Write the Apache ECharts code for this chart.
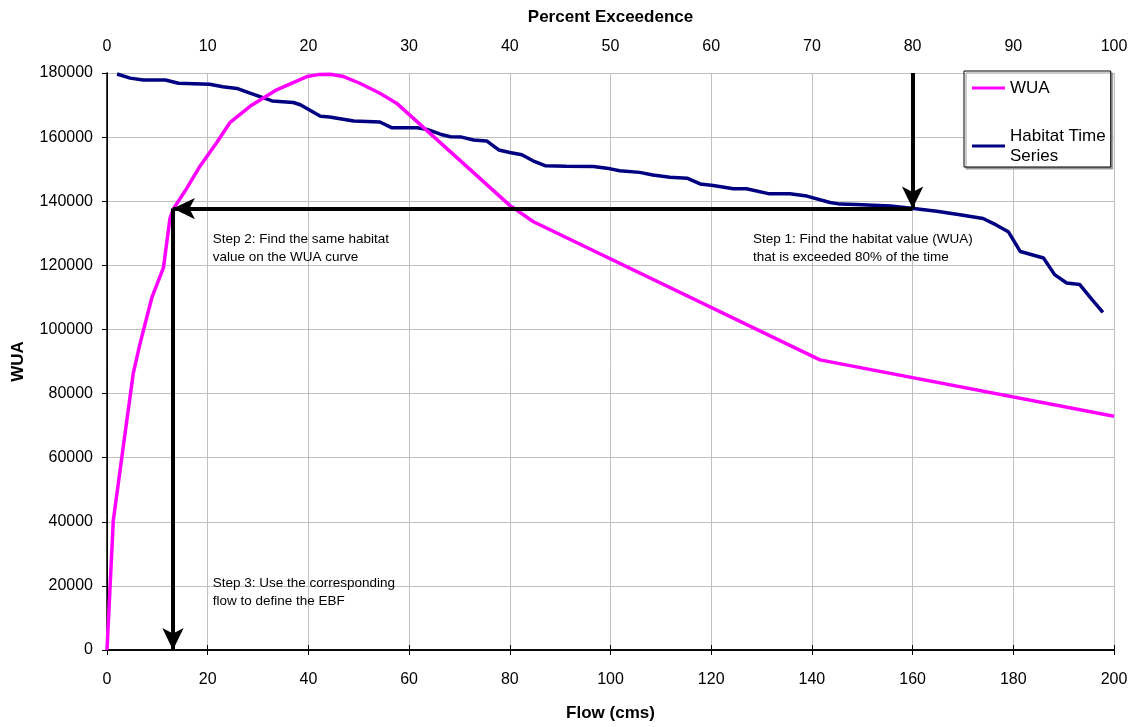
<!DOCTYPE html>
<html>
<head>
<meta charset="utf-8">
<title>WUA / Habitat Time Series</title>
<script src="https://cdn.jsdelivr.net/npm/echarts@6/dist/echarts.min.js"></script>
<style>
  html, body { margin: 0; padding: 0; background: #fff; }
  #chart { width: 1132px; height: 727px; }
</style>
</head>
<body>
<div id="chart"></div>
<script>
// WUA curve (flow in cms)
var wuaFlow = [0, 1.25, 2.9, 5.2, 6.55, 8.9, 11.2, 12.5, 13.2, 15.8, 18.5, 21.8, 24.4, 28.4, 33.7, 39.7, 42, 44.3, 47, 50.2, 54.2, 57.5, 80, 84.7, 141.6, 200];
var wuaValue = [0, 40400, 59600, 86200, 95500, 109900, 119200, 134600, 137700, 143900, 151000, 158300, 164500, 169600, 174750, 178900, 179500, 179600, 178900, 176800, 173700, 170600, 138700, 133600, 90500, 72900];

// habitat time series (percent exceedence)
var habPct = [1.0, 2.3, 3.6, 5.8, 7.1, 10.2, 11.5, 12.9, 14.2, 16.4, 18.5, 19.2, 21.2, 22.1, 24.5, 27.1, 28.3, 30.8, 31.8, 33.1, 34.1, 35.2, 36.4, 37.7, 38.9, 40.0, 41.2, 42.3, 43.5, 45.6, 48.3, 50.0, 50.9, 52.9, 54.2, 55.9, 57.6, 58.9, 60.2, 62.2, 63.5, 65.8, 67.8, 69.5, 71.8, 72.8, 74.4, 77.8, 80.1, 82.4, 84.7, 87.0, 88.3, 89.5, 90.7, 93.0, 94.1, 95.3, 96.6, 97.8, 98.9];
var habValue = [179700, 178400, 177800, 177800, 176800, 176500, 175700, 175200, 173700, 171300, 170800, 170100, 166500, 166300, 165000, 164700, 162900, 162900, 162400, 160900, 160100, 160000, 159100, 158800, 156000, 155200, 154500, 152600, 151100, 150900, 150800, 150100, 149500, 149000, 148200, 147500, 147200, 145400, 144900, 143900, 143900, 142300, 142300, 141600, 139600, 139100, 139000, 138500, 137700, 136900, 135800, 134600, 132600, 130500, 124300, 122300, 117100, 114500, 114000, 109400, 105300];

// the lookup steps
var exceedFlow = 160;      // 80% on the top axis sits over flow 160
var habitatAt80 = 137700;
var ebfFlow = 13.1;

var steps = [
  { at: [128.3, 125300], text: 'Step 1: Find the habitat value (WUA)\nthat is exceeded 80% of the time' },
  { at: [21.0, 125300], text: 'Step 2: Find the same habitat\nvalue on the WUA curve' },
  { at: [21.0, 18000], text: 'Step 3: Use the corresponding\nflow to define the EBF' }
];

function pairs(xs, ys) {
  return xs.map(function (x, i) { return [x, ys[i]]; });
}

function arrow(from, to) {
  return [
    { coord: from, symbol: 'none' },
    { coord: to, symbol: 'arrow', symbolSize: [16, 22] }
  ];
}

var font = 'Arial, "Liberation Sans", sans-serif';
var chart = echarts.init(document.getElementById('chart'));

chart.setOption({
  animation: false,
  backgroundColor: '#fff',
  textStyle: { fontFamily: font, color: '#000' },
  grid: { left: 107, right: 18, top: 73, bottom: 71 },
  legend: {
    orient: 'vertical',
    left: 964,
    top: 71,
    padding: [7, 5, 1, 8],
    itemGap: 28,
    itemWidth: 33,
    itemHeight: 3,
    icon: 'rect',
    backgroundColor: '#fff',
    borderColor: '#000',
    borderWidth: 1,
    shadowColor: '#999',
    shadowOffsetX: 2,
    shadowOffsetY: 2,
    textStyle: { fontSize: 17, lineHeight: 20, color: '#000', fontFamily: font },
    formatter: function (name) {
      return name === 'Habitat Time Series' ? 'Habitat Time\nSeries' : name;
    },
    data: ['WUA', 'Habitat Time Series']
  },
  xAxis: [
    {
      type: 'value', position: 'bottom', min: 0, max: 200, interval: 20,
      name: 'Flow (cms)', nameLocation: 'middle', nameGap: 55,
      nameTextStyle: { fontWeight: 'bold', fontSize: 17 },
      axisLine: { lineStyle: { color: '#000', width: 1.5 } },
      axisTick: { lineStyle: { color: '#000' }, length: 5 },
      axisLabel: { fontSize: 16, color: '#000', margin: 22 },
      splitLine: { show: true, lineStyle: { color: '#c0c0c0', width: 1 } }
    },
    {
      type: 'value', position: 'top', min: 0, max: 100, interval: 10,
      name: 'Percent Exceedence', nameLocation: 'middle', nameGap: 47,
      nameTextStyle: { fontWeight: 'bold', fontSize: 17 },
      axisLine: { lineStyle: { color: '#000', width: 1.5 } },
      axisTick: { lineStyle: { color: '#000' }, length: 5 },
      axisLabel: { fontSize: 16, color: '#000', margin: 18 },
      splitLine: { show: false }
    }
  ],
  yAxis: [
    {
      type: 'value', min: 0, max: 180000, interval: 20000,
      name: 'WUA', nameLocation: 'middle', nameGap: 80,
      nameTextStyle: { fontWeight: 'bold', fontSize: 17 },
      axisLine: { show: true, lineStyle: { color: '#000', width: 1.5 } },
      axisTick: { show: true, lineStyle: { color: '#000' }, length: 5 },
      axisLabel: { fontSize: 16, color: '#000', margin: 14, formatter: function (v) { return String(v); } },
      splitLine: { show: true, lineStyle: { color: '#c0c0c0', width: 1 } }
    },
    {
      type: 'value', min: 0, max: 180000, position: 'right',
      axisLine: { show: true, lineStyle: { color: '#000', width: 1 } },
      axisTick: { show: false },
      axisLabel: { show: false },
      splitLine: { show: false }
    }
  ],
  series: [
    {
      name: 'WUA',
      type: 'line',
      xAxisIndex: 0,
      yAxisIndex: 0,
      data: pairs(wuaFlow, wuaValue),
      showSymbol: false,
      smooth: false,
      itemStyle: { color: '#ff00ff' },
      lineStyle: { color: '#ff00ff', width: 3.5 },
      z: 3,
      markLine: {
        silent: true,
        label: { show: false },
        lineStyle: { color: '#000', width: 4, type: 'solid' },
        emphasis: { disabled: true },
        data: [
          arrow([exceedFlow, 180000], [exceedFlow, habitatAt80]),
          arrow([exceedFlow, habitatAt80], [ebfFlow, habitatAt80]),
          arrow([ebfFlow, habitatAt80], [ebfFlow, 0])
        ]
      }
    },
    {
      name: 'Habitat Time Series',
      type: 'line',
      xAxisIndex: 1,
      yAxisIndex: 0,
      data: pairs(habPct, habValue),
      showSymbol: false,
      smooth: false,
      itemStyle: { color: '#000080' },
      lineStyle: { color: '#000080', width: 3.5 },
      z: 2
    }
  ]
});

// step notes, placed from data coordinates
chart.setOption({
  graphic: steps.map(function (s) {
    var p = chart.convertToPixel({ xAxisIndex: 0, yAxisIndex: 0 }, s.at);
    return {
      type: 'text',
      silent: true,
      z: 10,
      style: {
        x: p[0], y: p[1],
        text: s.text,
        font: '13.5px ' + font,
        lineHeight: 18,
        fill: '#000',
        verticalAlign: 'middle'
      }
    };
  })
});
</script>
</body>
</html>
